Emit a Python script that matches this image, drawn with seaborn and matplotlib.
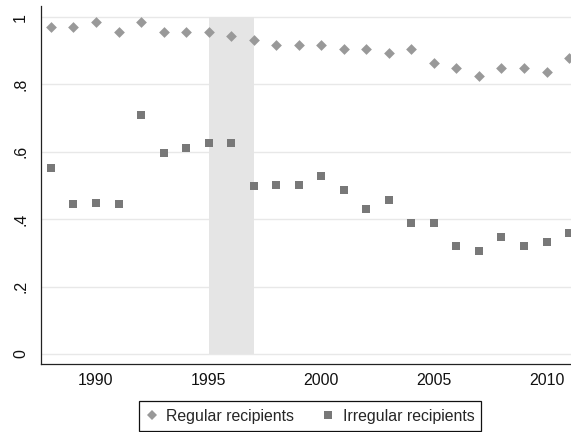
import matplotlib
matplotlib.use("Agg")
import matplotlib.pyplot as plt
import seaborn as sns
import pandas as pd
from matplotlib.lines import Line2D

# Share of recipients by year
years = list(range(1988, 2012))
regular = [0.970, 0.972, 0.986, 0.957, 0.986, 0.957, 0.957, 0.957, 0.944, 0.931,
           0.918, 0.918, 0.918, 0.904, 0.904, 0.892, 0.905, 0.864, 0.850, 0.824,
           0.850, 0.850, 0.838, 0.879]
irregular = [0.553, 0.446, 0.449, 0.444, 0.708, 0.597, 0.611, 0.625, 0.625, 0.500,
             0.501, 0.501, 0.529, 0.486, 0.431, 0.457, 0.389, 0.389, 0.319, 0.305,
             0.347, 0.319, 0.333, 0.360]
series_names = ["Regular recipients", "Irregular recipients"]
shade_years = [1995, 1997]
y_ticks = [0, 0.2, 0.4, 0.6, 0.8, 1.0]
y_tick_labels = ["0", ".2", ".4", ".6", ".8", "1"]
x_ticks = [1990, 1995, 2000, 2005, 2010]

df_reg = pd.DataFrame({"year": years, "share": regular})
df_irr = pd.DataFrame({"year": years, "share": irregular})

sns.set_style("white")
plt.rcParams["font.family"] = ["Liberation Sans", "DejaVu Sans"]
plt.rcParams["font.size"] = 11.4

reg_color = "#999999"
irr_color = "#787878"

fig = plt.figure(figsize=(5.71, 4.32), dpi=100)
ax = fig.add_axes([41 / 571, 68 / 432, 538 / 571, 358 / 432])

# grey period band
ax.fill_between(shade_years, 0, 1, color="#e5e5e5", linewidth=0, zorder=0.5)

for y in y_ticks:
    ax.axhline(y, color="#e8e8e8", linewidth=1.0, zorder=0.4)

sns.scatterplot(data=df_reg, x="year", y="share", marker="D", s=30,
                color=reg_color, linewidth=0, ax=ax, zorder=3)
sns.scatterplot(data=df_irr, x="year", y="share", marker="s", s=36,
                color=irr_color, linewidth=0, ax=ax, zorder=3)

ax.set_xlim(1987.56, 2011.44)
ax.set_ylim(-0.03, 1.033)
ax.set_xticks(x_ticks)
ax.set_xticklabels([str(t) for t in x_ticks])
ax.set_yticks(y_ticks)
ax.set_yticklabels(y_tick_labels, rotation=90, va="center")
ax.set_xlabel("")
ax.set_ylabel("")

for side in ["top", "right"]:
    ax.spines[side].set_visible(False)
for side in ["left", "bottom"]:
    ax.spines[side].set_color("#222222")
    ax.spines[side].set_linewidth(0.9)

ax.tick_params(axis="both", direction="out", length=4.3, width=0.8,
               color="#222222", labelcolor="#111111", labelsize=11.4)
ax.tick_params(axis="y", pad=5)
ax.tick_params(axis="x", pad=2.5)
ax.grid(False)

handles = [
    Line2D([], [], linestyle="none", marker="D", markersize=5.6,
           markerfacecolor=reg_color, markeredgewidth=0),
    Line2D([], [], linestyle="none", marker="s", markersize=6.2,
           markerfacecolor=irr_color, markeredgewidth=0),
]
leg = fig.legend(handles, series_names, loc="center",
                 bbox_to_anchor=(310 / 571, 1 - 416 / 432), ncol=2,
                 frameon=True, fancybox=False, framealpha=1,
                 edgecolor="#111111", fontsize=11.4, handlelength=0.8,
                 handletextpad=0.5, columnspacing=1.75, borderpad=0.45)
leg.get_frame().set_linewidth(0.9)

fig.savefig("out.png", dpi=100)
